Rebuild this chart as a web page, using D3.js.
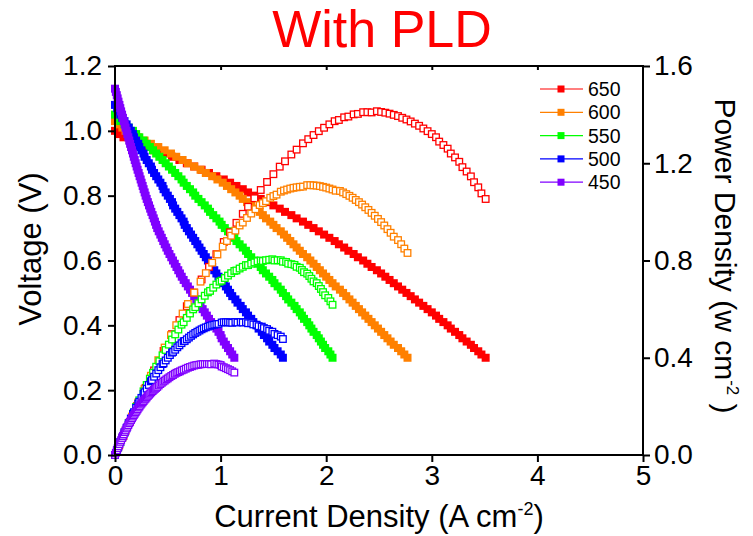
<!DOCTYPE html>
<html>
<head>
<meta charset="utf-8">
<script src="https://cdn.jsdelivr.net/npm/d3@7"></script>
<style>
  html, body { margin: 0; padding: 0; background: #fff; }
  svg { display: block; font-family: "Liberation Sans", Arial, sans-serif; }
</style>
</head>
<body>
<div id="chart"></div>
<script>
// V-I and power curves "With PLD": filled squares = voltage (left axis),
// open squares = power density (right axis). Points every 10 mV.

const VOLTAGE = [1.13, 1.12, 1.11, 1.10, 1.09, 1.08, 1.07, 1.06, 1.05, 1.04, 1.03, 1.02, 1.01, 1.00,
  0.99, 0.98, 0.97, 0.96, 0.95, 0.94, 0.93, 0.92, 0.91, 0.90, 0.89, 0.88, 0.87, 0.86, 0.85, 0.84,
  0.83, 0.82, 0.81, 0.80, 0.79, 0.78, 0.77, 0.76, 0.75, 0.74, 0.73, 0.72, 0.71, 0.70, 0.69, 0.68,
  0.67, 0.66, 0.65, 0.64, 0.63, 0.62, 0.61, 0.60, 0.59, 0.58, 0.57, 0.56, 0.55, 0.54, 0.53, 0.52,
  0.51, 0.50, 0.49, 0.48, 0.47, 0.46, 0.45, 0.44, 0.43, 0.42, 0.41, 0.40, 0.39, 0.38, 0.37, 0.36,
  0.35, 0.34, 0.33, 0.32, 0.31, 0.30];

const TEMPS = ["650", "600", "550", "500", "450"];

// current density (A cm-2), one value per voltage step, ending at 0.30 V
const CURRENT_650 = [0, 0.04, 0.08, 0.14, 0.21, 0.29, 0.37, 0.46, 0.54, 0.61, 0.68, 0.75, 0.82, 0.89,
  0.96, 1.03, 1.09, 1.15, 1.21, 1.26, 1.32, 1.38, 1.44, 1.50, 1.56, 1.61, 1.67, 1.72, 1.78, 1.83,
  1.88, 1.93, 1.98, 2.03, 2.08, 2.12, 2.17, 2.21, 2.26, 2.30, 2.35, 2.39, 2.43, 2.48, 2.52, 2.56,
  2.60, 2.64, 2.68, 2.72, 2.76, 2.80, 2.84, 2.88, 2.92, 2.96, 3.00, 3.04, 3.07, 3.11, 3.15, 3.18,
  3.22, 3.26, 3.29, 3.33, 3.37, 3.40, 3.44, 3.47, 3.51];
const CURRENT_600 = [0, 0.03, 0.07, 0.10, 0.16, 0.22, 0.28, 0.34, 0.41, 0.47, 0.53, 0.58, 0.64, 0.69,
  0.75, 0.81, 0.86, 0.92, 0.97, 1.02, 1.06, 1.10, 1.14, 1.18, 1.21, 1.25, 1.29, 1.33, 1.37, 1.40,
  1.43, 1.47, 1.50, 1.53, 1.57, 1.60, 1.63, 1.66, 1.69, 1.72, 1.75, 1.78, 1.82, 1.85, 1.88, 1.91,
  1.94, 1.97, 2.00, 2.03, 2.06, 2.09, 2.13, 2.16, 2.19, 2.22, 2.25, 2.28, 2.31, 2.34, 2.37, 2.40,
  2.43, 2.46, 2.49, 2.52, 2.55, 2.58, 2.61, 2.64, 2.68, 2.71, 2.74, 2.77];
const CURRENT_550 = [0, 0.03, 0.05, 0.09, 0.13, 0.17, 0.20, 0.23, 0.27, 0.30, 0.33, 0.36, 0.39, 0.42,
  0.45, 0.48, 0.51, 0.54, 0.57, 0.60, 0.63, 0.65, 0.68, 0.71, 0.74, 0.76, 0.79, 0.82, 0.85, 0.88,
  0.90, 0.93, 0.96, 0.99, 1.01, 1.04, 1.07, 1.10, 1.13, 1.15, 1.18, 1.21, 1.24, 1.26, 1.29, 1.32,
  1.35, 1.38, 1.40, 1.43, 1.46, 1.49, 1.51, 1.54, 1.57, 1.59, 1.62, 1.64, 1.67, 1.70, 1.72, 1.75,
  1.77, 1.79, 1.82, 1.84, 1.86, 1.88, 1.91, 1.93, 1.95, 1.97, 1.99, 2.02, 2.04, 2.06];
const CURRENT_500 = [0, 0.02, 0.03, 0.05, 0.07, 0.09, 0.11, 0.13, 0.15, 0.17, 0.18, 0.20, 0.22, 0.23,
  0.25, 0.27, 0.28, 0.30, 0.32, 0.34, 0.35, 0.37, 0.39, 0.41, 0.43, 0.45, 0.46, 0.48, 0.50, 0.52,
  0.54, 0.55, 0.57, 0.59, 0.61, 0.63, 0.65, 0.66, 0.68, 0.70, 0.72, 0.74, 0.76, 0.78, 0.80, 0.82,
  0.84, 0.86, 0.88, 0.90, 0.92, 0.94, 0.96, 0.98, 1.01, 1.03, 1.05, 1.07, 1.09, 1.11, 1.14, 1.16,
  1.19, 1.21, 1.24, 1.26, 1.29, 1.31, 1.34, 1.36, 1.39, 1.41, 1.44, 1.46, 1.49, 1.51, 1.54, 1.57, 1.59];
const CURRENT_450 = [0, 0.008, 0.017, 0.025, 0.033, 0.042, 0.05, 0.058, 0.067, 0.075, 0.083, 0.092,
  0.10, 0.109, 0.117, 0.126, 0.135, 0.143, 0.152, 0.161, 0.170, 0.178, 0.187, 0.196, 0.205, 0.214,
  0.224, 0.233, 0.243, 0.252, 0.262, 0.271, 0.281, 0.290, 0.30, 0.311, 0.322, 0.333, 0.344, 0.356,
  0.367, 0.378, 0.389, 0.40, 0.414, 0.429, 0.443, 0.457, 0.471, 0.486, 0.50, 0.516, 0.533, 0.549,
  0.566, 0.582, 0.599, 0.615, 0.632, 0.65, 0.67, 0.69, 0.71, 0.73, 0.75, 0.77, 0.79, 0.81, 0.83,
  0.85, 0.87, 0.89, 0.91, 0.94, 0.96, 0.98, 1.00, 1.01, 1.03, 1.05, 1.07, 1.09, 1.11, 1.13];

// power density (W cm-2), same points
const POWER_650 = [0, 0.040, 0.078, 0.136, 0.202, 0.276, 0.348, 0.428, 0.497, 0.555, 0.612, 0.668,
  0.722, 0.774, 0.826, 0.876, 0.916, 0.955, 0.992, 1.021, 1.056, 1.090, 1.123, 1.155, 1.186, 1.208,
  1.236, 1.256, 1.282, 1.299, 1.316, 1.332, 1.346, 1.360, 1.373, 1.378, 1.389, 1.392, 1.401, 1.403,
  1.410, 1.410, 1.409, 1.414, 1.411, 1.408, 1.404, 1.399, 1.394, 1.387, 1.380, 1.372, 1.363, 1.354,
  1.343, 1.332, 1.320, 1.307, 1.289, 1.275, 1.260, 1.240, 1.224, 1.206, 1.184, 1.166, 1.146, 1.122,
  1.101, 1.076, 1.053];
const POWER_600 = [0, 0.031, 0.071, 0.100, 0.158, 0.216, 0.272, 0.326, 0.390, 0.442, 0.493, 0.534,
  0.582, 0.621, 0.668, 0.713, 0.748, 0.791, 0.825, 0.857, 0.880, 0.902, 0.923, 0.944, 0.956, 0.975,
  0.993, 1.011, 1.028, 1.036, 1.044, 1.058, 1.065, 1.071, 1.083, 1.088, 1.092, 1.096, 1.099, 1.101,
  1.103, 1.104, 1.110, 1.110, 1.109, 1.108, 1.106, 1.103, 1.100, 1.096, 1.092, 1.087, 1.086, 1.080,
  1.073, 1.066, 1.058, 1.049, 1.040, 1.030, 1.019, 1.008, 0.996, 0.984, 0.971, 0.958, 0.944, 0.929,
  0.914, 0.898, 0.884, 0.867, 0.849, 0.831];
const POWER_550 = [0, 0.031, 0.052, 0.092, 0.131, 0.170, 0.198, 0.225, 0.262, 0.288, 0.314, 0.338,
  0.363, 0.386, 0.410, 0.432, 0.454, 0.475, 0.496, 0.516, 0.536, 0.546, 0.564, 0.582, 0.599, 0.608,
  0.624, 0.640, 0.655, 0.669, 0.675, 0.688, 0.701, 0.713, 0.717, 0.728, 0.738, 0.748, 0.757, 0.759,
  0.767, 0.774, 0.781, 0.781, 0.787, 0.792, 0.797, 0.800, 0.798, 0.801, 0.803, 0.805, 0.800, 0.801,
  0.801, 0.795, 0.794, 0.787, 0.785, 0.782, 0.774, 0.770, 0.761, 0.752, 0.746, 0.736, 0.725, 0.714,
  0.707, 0.695, 0.683, 0.670, 0.657, 0.646, 0.632, 0.618];
const POWER_500 = [0, 0.021, 0.032, 0.053, 0.073, 0.093, 0.112, 0.131, 0.150, 0.168, 0.176, 0.194,
  0.211, 0.219, 0.235, 0.251, 0.258, 0.273, 0.288, 0.303, 0.308, 0.322, 0.335, 0.349, 0.361, 0.374,
  0.377, 0.389, 0.400, 0.411, 0.421, 0.424, 0.433, 0.443, 0.451, 0.460, 0.468, 0.469, 0.476, 0.483,
  0.490, 0.496, 0.502, 0.507, 0.512, 0.517, 0.521, 0.525, 0.528, 0.531, 0.534, 0.536, 0.538, 0.539,
  0.545, 0.546, 0.546, 0.546, 0.545, 0.544, 0.547, 0.545, 0.547, 0.545, 0.546, 0.542, 0.542, 0.537,
  0.536, 0.530, 0.528, 0.522, 0.518, 0.511, 0.507, 0.498, 0.493, 0.487, 0.477];
const POWER_450 = [0, 0.009, 0.019, 0.028, 0.036, 0.045, 0.054, 0.061, 0.070, 0.078, 0.085, 0.094,
  0.101, 0.109, 0.116, 0.123, 0.131, 0.137, 0.144, 0.151, 0.158, 0.164, 0.170, 0.176, 0.182, 0.188,
  0.195, 0.200, 0.207, 0.212, 0.217, 0.222, 0.228, 0.232, 0.237, 0.243, 0.248, 0.253, 0.258, 0.263,
  0.268, 0.272, 0.276, 0.280, 0.286, 0.292, 0.297, 0.302, 0.306, 0.311, 0.315, 0.320, 0.325, 0.329,
  0.334, 0.338, 0.341, 0.344, 0.348, 0.351, 0.355, 0.359, 0.362, 0.365, 0.368, 0.370, 0.371, 0.373,
  0.374, 0.374, 0.374, 0.374, 0.373, 0.376, 0.374, 0.372, 0.370, 0.364, 0.361, 0.357, 0.353, 0.349,
  0.344, 0.339];

const X_TICKS = [0, 1, 2, 3, 4, 5];
const V_TICKS = [0, 0.2, 0.4, 0.6, 0.8, 1.0, 1.2];
const P_TICKS = [0, 0.4, 0.8, 1.2, 1.6];

const COLORS = ["#ff0000", "#ff8000", "#00ff00", "#0000ff", "#8000ff"];

(function () {
  "use strict";
  const W = 753, H = 536;
  const L = 115, R = 643, T = 66, B = 455;
  const sq = 8, osq = 6.6;

  const svg = d3.select("#chart").append("svg").attr("width", W).attr("height", H);
  svg.append("rect").attr("width", W).attr("height", H).attr("fill", "#fff");

  const x = d3.scaleLinear().domain([0, 5]).range([L, R]);
  const y = d3.scaleLinear().domain([0, 1.2]).range([B, T]);
  const p = d3.scaleLinear().domain([0, 1.6]).range([B, T]);

  const currents = [CURRENT_650, CURRENT_600, CURRENT_550, CURRENT_500, CURRENT_450];
  const powers = [POWER_650, POWER_600, POWER_550, POWER_500, POWER_450];
  const series = TEMPS.map((t, k) => {
    const volts = VOLTAGE.slice(VOLTAGE.length - currents[k].length);
    return {
      name: t, color: COLORS[k],
      pts: currents[k].map((c, i) => ({ i: c, v: volts[i], p: powers[k][i] })),
    };
  });

  // voltage curves (filled)
  series.forEach((s) => {
    svg.append("g").selectAll("rect").data(s.pts).join("rect")
      .attr("x", (d) => x(d.i) - sq / 2).attr("y", (d) => y(d.v) - sq / 2)
      .attr("width", sq).attr("height", sq).attr("fill", s.color);
  });
  // power curves (open)
  series.forEach((s) => {
    svg.append("g").selectAll("rect").data(s.pts).join("rect")
      .attr("x", (d) => x(d.i) - osq / 2).attr("y", (d) => p(d.p) - osq / 2)
      .attr("width", osq).attr("height", osq)
      .attr("fill", "#fff").attr("stroke", s.color).attr("stroke-width", 1.3);
  });

  // axes
  const fs = 28;
  function style(g) {
    g.select(".domain").remove();
    g.selectAll(".tick line").attr("stroke", "#000").attr("stroke-width", 2);
    g.selectAll(".tick text").attr("fill", "#000").style("font-size", fs + "px")
      .style("font-family", '"Liberation Sans", Arial, sans-serif');
  }
  svg.append("g").attr("transform", `translate(0,${B})`)
    .call(d3.axisBottom(x).tickValues(X_TICKS).tickFormat(d3.format("d")).tickSize(7).tickPadding(3)).call(style);
  svg.append("g").attr("transform", `translate(${L},0)`)
    .call(d3.axisLeft(y).tickValues(V_TICKS).tickFormat(d3.format(".1f")).tickSize(7).tickPadding(6)).call(style);
  svg.append("g").attr("transform", `translate(${R},0)`)
    .call(d3.axisRight(p).tickValues(P_TICKS).tickFormat(d3.format(".1f")).tickSize(7).tickPadding(4)).call(style);
  svg.append("g").attr("transform", `translate(0,${T})`)
    .call(d3.axisTop(x).tickValues(X_TICKS.slice(1, -1)).tickFormat("").tickSize(-4)).call(style);

  svg.append("rect").attr("x", L).attr("y", T).attr("width", R - L).attr("height", B - T)
    .attr("fill", "none").attr("stroke", "#000").attr("stroke-width", 2);

  // titles
  svg.append("text").attr("x", 382).attr("y", 47).attr("text-anchor", "middle")
    .attr("fill", "#ff0000").style("font-size", "52px").text("With PLD");

  svg.append("text").attr("transform", "translate(41,249) rotate(-90)").attr("text-anchor", "middle")
    .style("font-size", "31px").text("Voltage (V)");

  const xt = svg.append("text").attr("x", 379).attr("y", 527).attr("text-anchor", "middle").style("font-size", "31px");
  xt.append("tspan").text("Current Density (A cm");
  xt.append("tspan").attr("dy", -12).style("font-size", "18px").text("-2");
  xt.append("tspan").attr("dy", 12).text(")");

  const pt = svg.append("text").attr("transform", "translate(715,256) rotate(90)").attr("text-anchor", "middle").style("font-size", "30px");
  pt.append("tspan").text("Power Density (w cm");
  pt.append("tspan").attr("dy", -12).style("font-size", "17px").text("-2");
  pt.append("tspan").attr("dy", 12).text(" )");

  // legend
  const leg = svg.append("g");
  series.forEach((s, k) => {
    const ly = 89 + k * 23.3;
    leg.append("line").attr("x1", 540).attr("x2", 583).attr("y1", ly).attr("y2", ly)
      .attr("stroke", s.color).attr("stroke-width", 1.2);
    leg.append("rect").attr("x", 561 - 3.5).attr("y", ly - 3.5).attr("width", 7).attr("height", 7).attr("fill", s.color);
    leg.append("text").attr("x", 588).attr("y", ly + 7).style("font-size", "19.5px").text(s.name);
  });
})();
</script>
</body>
</html>
